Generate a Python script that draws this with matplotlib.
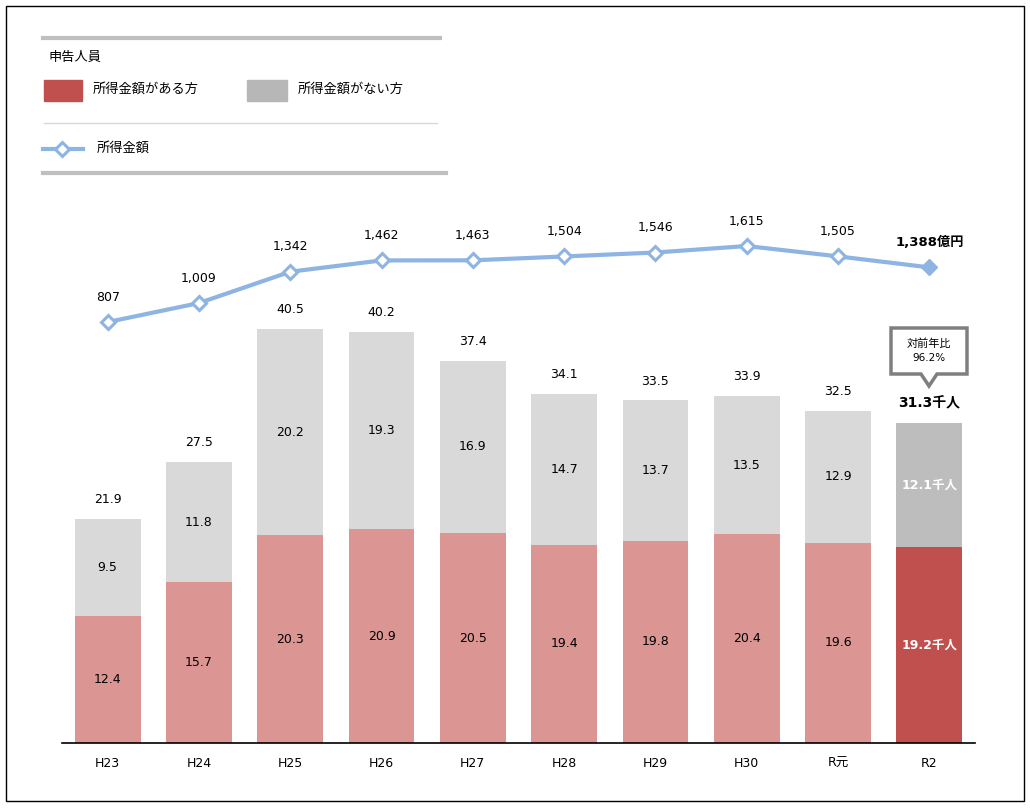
import numpy as np
import matplotlib.pyplot as plt
from matplotlib.patches import Rectangle, Polygon
from matplotlib.lines import Line2D

plt.rcParams['font.family'] = ['DejaVu Sans', 'Noto Sans CJK JP']

# data
years = ['H23', 'H24', 'H25', 'H26', 'H27', 'H28', 'H29', 'H30', 'R元', 'R2']
with_income = [12.4, 15.7, 20.3, 20.9, 20.5, 19.4, 19.8, 20.4, 19.6, 19.2]
without_income = [9.5, 11.8, 20.2, 19.3, 16.9, 14.7, 13.7, 13.5, 12.9, 12.1]
totals = [21.9, 27.5, 40.5, 40.2, 37.4, 34.1, 33.5, 33.9, 32.5, 31.3]
income_amount = [807, 1009, 1342, 1462, 1463, 1504, 1546, 1615, 1505, 1388]
yoy_ratio = '96.2%'

W, H = 1030, 808
fig = plt.figure(figsize=(W / 100, H / 100), dpi=100)


def fx(x):
    return x / W


def fy(y):
    return 1 - y / H


red_light = '#DB9593'
red_dark = '#C0504D'
gray_light = '#D9D9D9'
gray_dark = '#BDBDBD'
blue = '#8DB4E2'
jp = ['Noto Sans CJK JP', 'DejaVu Sans']

ax = fig.add_axes([fx(62), fy(743), (975 - 62) / W, (743 - 200) / H])
ax2 = ax.twinx()
ax.set_zorder(1)
ax2.set_zorder(2)
ax.patch.set_visible(False)

x = np.arange(len(years))
n = len(years)
lower_colors = [red_light] * (n - 1) + [red_dark]
upper_colors = [gray_light] * (n - 1) + [gray_dark]
ax.bar(x, with_income, width=0.72, color=lower_colors)
ax.bar(x, without_income, width=0.72, bottom=with_income, color=upper_colors)

ax.set_xlim(-0.5, 9.5)
ax.set_ylim(0, 53.1)
ax2.set_ylim(-3666, 2104)

for a in (ax, ax2):
    for s in ['top', 'right', 'left']:
        a.spines[s].set_visible(False)
    a.set_yticks([])
ax2.spines['bottom'].set_visible(False)
ax.spines['bottom'].set_color('black')
ax.spines['bottom'].set_linewidth(1.2)
ax.set_xticks(x)
ax.set_xticklabels(years, fontsize=9)
ax.tick_params(axis='x', length=0, pad=10)

for i in range(n):
    lo, up, tot = with_income[i], without_income[i], totals[i]
    if i < n - 1:
        ax.text(i, lo / 2, f'{lo}', ha='center', va='center', fontsize=9)
        ax.text(i, lo + up / 2, f'{up}', ha='center', va='center', fontsize=9)
        ax.text(i, tot + 1.9, f'{tot}', ha='center', va='center', fontsize=9)
    else:
        ax.text(i, lo / 2, f'{lo}千人', ha='center', va='center', fontsize=9,
                color='white', fontweight='bold')
        ax.text(i, lo + up / 2, f'{up}千人', ha='center', va='center', fontsize=9,
                color='white', fontweight='bold')
        ax.text(i, tot + 1.9, f'{tot}千人', ha='center', va='center', fontsize=10,
                fontweight='bold')

# income line
ax2.plot(x, income_amount, color=blue, lw=3, zorder=3)
ax2.plot(x[:-1], income_amount[:-1], ls='none', marker='D', ms=7,
         mfc='white', mec=blue, mew=2.2, zorder=4)
ax2.plot(x[-1:], income_amount[-1:], ls='none', marker='D', ms=8,
         mfc=blue, mec=blue, zorder=4)
for i, v in enumerate(income_amount):
    if i < n - 1:
        ax2.text(i, v + 265, f'{v:,}', ha='center', va='center', fontsize=9)
    else:
        ax2.text(i, v + 265, f'{v:,}億円', ha='center', va='center', fontsize=9.5,
                 fontweight='bold')

# callout box for R2
cx = 929
box = Polygon([(fx(891), fy(328)), (fx(967), fy(328)), (fx(967), fy(374)),
               (fx(937), fy(374)), (fx(929), fy(386)), (fx(921), fy(374)),
               (fx(891), fy(374))], closed=True, transform=fig.transFigure,
              facecolor='white', edgecolor='#7F7F7F', lw=2.5)
fig.add_artist(box)
fig.text(fx(cx), fy(344), '対前年比', ha='center', va='center', fontsize=8, family=jp)
fig.text(fx(cx), fy(358), yoy_ratio, ha='center', va='center', fontsize=7.5)

# legend block
fig.add_artist(Line2D([fx(43), fx(440)], [fy(38), fy(38)], color='#BFBFBF', lw=3))
fig.text(fx(48), fy(57), '申告人員', ha='left', va='center', fontsize=9.5, family=jp)
fig.add_artist(Rectangle((fx(44), fy(101)), fx(38), 21 / H, color=red_dark))
fig.text(fx(93), fy(89), '所得金額がある方', ha='left', va='center', fontsize=9.5, family=jp)
fig.add_artist(Rectangle((fx(247), fy(101)), fx(40), 21 / H, color='#B7B7B7'))
fig.text(fx(298), fy(89), '所得金額がない方', ha='left', va='center', fontsize=9.5, family=jp)
fig.add_artist(Line2D([fx(44), fx(437)], [fy(123), fy(123)], color='#D9D9D9', lw=1))
fig.add_artist(Line2D([fx(43), fx(83)], [fy(149), fy(149)], color=blue, lw=3))
fig.add_artist(Line2D([fx(62)], [fy(149)], marker='D', ms=7, mfc='white',
                      mec=blue, mew=2.2))
fig.text(fx(97), fy(148), '所得金額', ha='left', va='center', fontsize=9.5, family=jp)
fig.add_artist(Line2D([fx(43), fx(446)], [fy(173), fy(173)], color='#BFBFBF', lw=3))

# outer frame
fig.add_artist(Rectangle((fx(6), fy(801)), fx(1018), 795 / H, fill=False,
                         edgecolor='black', lw=1))

fig.savefig('out.png', dpi=100)
